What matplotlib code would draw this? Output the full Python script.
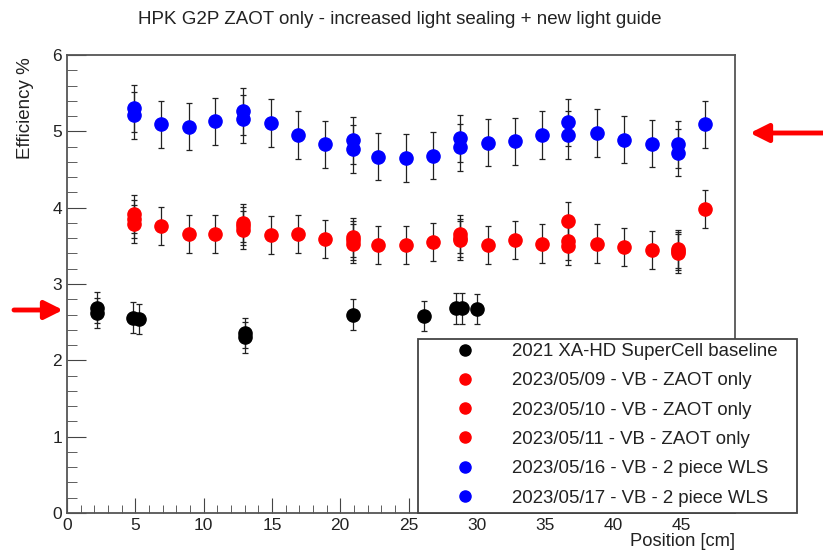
import numpy as np
import matplotlib.pyplot as plt
from matplotlib.lines import Line2D
from matplotlib.patches import Rectangle, FancyArrowPatch
from matplotlib.ticker import MultipleLocator

plt.rcParams['font.family'] = ['Liberation Sans', 'DejaVu Sans']

# baseline (black)
x_base = [2.2, 2.2, 4.8, 5.3, 13.0, 13.0, 20.9, 26.1, 28.5, 28.9, 30.0]
y_base = [2.69, 2.62, 2.56, 2.54, 2.36, 2.30, 2.60, 2.58, 2.68, 2.68, 2.67]
e_base = 0.2

# red - ZAOT only
x_r09 = [4.9, 6.9, 8.9, 10.8, 12.9, 14.9, 16.9, 18.9, 20.9, 22.8, 24.8,
         26.8, 28.8, 30.8, 32.8, 34.8, 36.7, 38.8, 40.8, 42.8, 44.7, 46.7]
y_r09 = [3.92, 3.76, 3.66, 3.66, 3.80, 3.64, 3.65, 3.59, 3.61, 3.51, 3.51,
         3.55, 3.66, 3.51, 3.58, 3.53, 3.83, 3.53, 3.49, 3.45, 3.43, 3.98]
x_r10 = [4.9, 12.9, 20.9, 28.8, 36.7, 44.7]
y_r10 = [3.85, 3.71, 3.53, 3.57, 3.56, 3.40]
x_r11 = [4.9, 12.9, 20.9, 28.8, 36.7, 44.7]
y_r11 = [3.79, 3.76, 3.57, 3.60, 3.50, 3.46]
e_red = 0.25

# blue - 2 piece WLS
x_b16 = [4.9, 6.9, 8.9, 10.8, 12.9, 14.9, 16.9, 18.9, 20.9, 22.8, 24.8,
         26.8, 28.8, 30.8, 32.8, 34.8, 36.7, 38.8, 40.8, 42.8, 44.7, 46.7]
y_b16 = [5.30, 5.09, 5.06, 5.13, 5.26, 5.11, 4.95, 4.83, 4.88, 4.67, 4.65,
         4.68, 4.91, 4.85, 4.87, 4.95, 5.12, 4.98, 4.89, 4.84, 4.83, 5.09]
x_b17 = [4.9, 12.9, 20.9, 28.8, 36.7, 44.7]
y_b17 = [5.21, 5.16, 4.77, 4.79, 4.95, 4.72]
e_blue = 0.31

labels = ['2021 XA-HD SuperCell baseline',
          '2023/05/09 - VB - ZAOT only',
          '2023/05/10 - VB - ZAOT only',
          '2023/05/11 - VB - ZAOT only',
          '2023/05/16 - VB - 2 piece WLS',
          '2023/05/17 - VB - 2 piece WLS']
colors = ['black', '#ff0000', '#ff0000', '#ff0000', '#0000ff', '#0000ff']
series = [(x_base, y_base, e_base), (x_r09, y_r09, e_red), (x_r10, y_r10, e_red),
          (x_r11, y_r11, e_red), (x_b16, y_b16, e_blue), (x_b17, y_b17, e_blue)]

W, H = 823, 553
fig = plt.figure(figsize=(W / 100, H / 100), dpi=100)
ax = fig.add_axes([67 / W, 1 - 513 / H, (735 - 67) / W, (513 - 55) / H])

for (xs, ys, e), c in zip(series, colors):
    ax.errorbar(xs, ys, yerr=e, fmt='o', color=c, ms=9.5, mec=c,
                ecolor='#222222', elinewidth=0.9, capsize=2, capthick=0.9)

ax.set_xlim(0, 48.9)
ax.set_ylim(0, 6)
ax.xaxis.set_major_locator(MultipleLocator(5))
ax.xaxis.set_minor_locator(MultipleLocator(1))
ax.yaxis.set_major_locator(MultipleLocator(1))
ax.yaxis.set_minor_locator(MultipleLocator(0.2))
ax.set_xticks(range(0, 50, 5))
ax.tick_params(which='both', direction='in', color='#444444', labelsize=12.5,
               labelcolor='#222222')
ax.tick_params(axis='x', which='major', length=11)
ax.tick_params(axis='x', which='minor', length=6)
ax.tick_params(axis='y', which='major', length=14)
ax.tick_params(axis='y', which='minor', length=7)
for s in ax.spines.values():
    s.set_color('#555555')
    s.set_linewidth(1.3)

fig.text(400 / W, 1 - 20 / H, 'HPK G2P ZAOT only - increased light sealing + new light guide',
         ha='center', va='center', fontsize=13.5, color='#222222')
fig.text(735 / W, 1 - 541 / H, 'Position [cm]', ha='right', va='center', fontsize=13.2,
         color='#222222')
fig.text(25 / W, 1 - 57 / H, 'Efficiency %', ha='center', va='top', rotation=90,
         fontsize=13.5, color='#222222')

# legend box
fig.patches.append(Rectangle((418 / W, 1 - 513 / H), 379 / W, 174 / H,
                             transform=fig.transFigure, facecolor='white',
                             edgecolor='#444444', lw=1.3, zorder=3))
handles = [Line2D([], [], ls='none', marker='o', ms=8, color=c) for c in colors]
leg = fig.legend(handles, labels, loc='upper left', bbox_to_anchor=(446 / W, 1 - 343 / H),
                 frameon=False, fontsize=13.4, borderpad=0, borderaxespad=0,
                 handlelength=2, handletextpad=1.52, labelspacing=0.66,
                 labelcolor='#222222')
leg.set_zorder(4)

# red arrows
for tail, head in [((823, 133), (750, 133)), ((14, 310), (63, 310))]:
    fig.patches.append(FancyArrowPatch((tail[0] / W, 1 - tail[1] / H), (head[0] / W, 1 - head[1] / H),
                                       transform=fig.transFigure,
                                       arrowstyle='-|>,head_length=11,head_width=5.5',
                                       color='#ff0000', lw=3.5, shrinkA=0, shrinkB=0, zorder=5))

fig.savefig('out.png', dpi=100)
